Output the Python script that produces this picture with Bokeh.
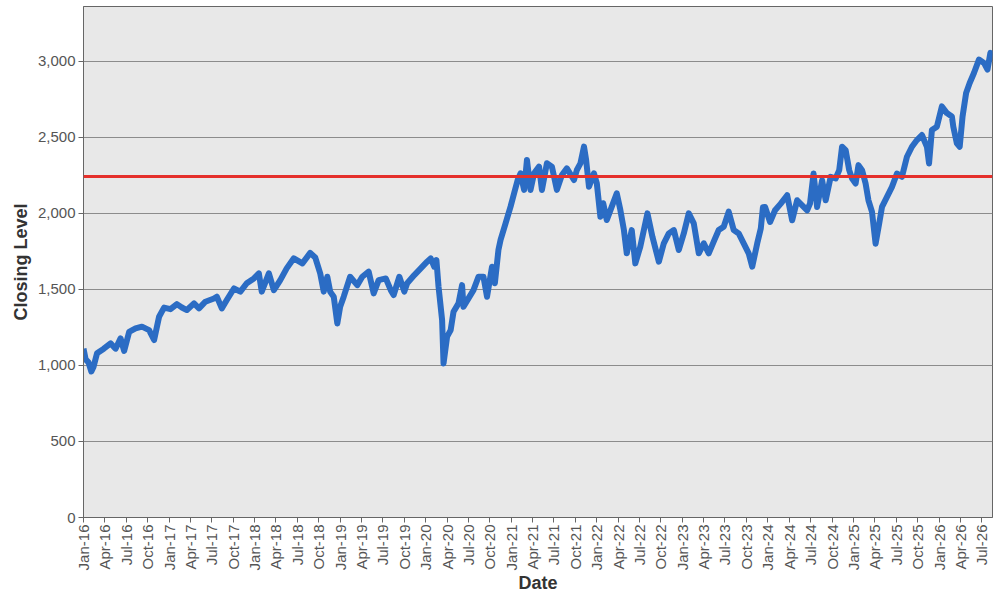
import math
import numpy as np
import pandas as pd
from bokeh.plotting import figure
from bokeh.models import (Span, FixedTicker, DatetimeTickFormatter, NumeralTickFormatter,
                          Range1d, ColumnDataSource)
from bokeh.embed import file_html
from bokeh.resources import INLINE

# ---- data ----
start_date = "2016-01-01"
# months elapsed since Jan 2016
months = [0.0, 0.3, 0.7, 1.1, 1.4, 1.9, 2.85, 3.8, 4.5, 5.2, 5.7, 6.4, 7.3, 8.2, 9.2, 9.9,
          10.6, 11.3, 12.2, 13.1, 13.8, 14.5, 15.5, 16.2, 17.1, 18.3, 18.7, 19.4, 20.1, 21.1,
          22.0, 22.9, 23.9, 24.6, 25.0, 26.0, 26.7, 27.6, 28.5, 29.5, 30.7, 31.8, 32.5, 33.2,
          33.7, 34.2, 34.6, 35.1, 35.6, 36.0, 36.5, 37.4, 38.4, 39.1, 40.0, 40.7, 41.4, 42.4,
          43.1, 43.5, 44.3, 45.0, 45.4, 46.4, 47.3, 48.2, 48.7, 49.2, 49.5, 49.8, 50.3, 50.5,
          51.0, 51.5, 51.9, 52.6, 53.1, 53.3, 54.0, 54.7, 55.4, 56.1, 56.6, 57.3, 57.7, 58.2,
          58.5, 59.2, 59.9, 60.4, 60.9, 61.3, 61.8, 62.2, 62.7, 63.2, 63.9, 64.3, 65.0, 65.7,
          66.4, 67.1, 67.8, 68.8, 69.2, 69.7, 70.2, 70.5, 70.9, 71.6, 72.0, 72.5, 72.9, 73.4,
          74.1, 74.8, 75.3, 75.8, 76.2, 76.9, 77.4, 78.1, 79.1, 79.8, 80.7, 81.4, 82.1, 82.8,
          83.5, 84.2, 84.9, 85.6, 86.3, 87.0, 87.7, 88.5, 89.1, 89.8, 90.5, 91.2, 91.9, 92.6,
          93.3, 93.8, 94.5, 95.0, 95.3, 95.6, 96.3, 97.0, 97.8, 98.7, 99.4, 100.1, 100.8, 101.5,
          101.9, 102.4, 102.9, 103.6, 104.1, 104.8, 105.5, 106.0, 106.4, 106.9, 107.4, 107.8,
          108.3, 108.7, 109.2, 109.7, 110.1, 110.6, 111.1, 111.6, 112.0, 112.7, 113.4, 114.1,
          114.8, 115.5, 116.2, 116.9, 117.6, 118.3, 118.6, 119.0, 119.7, 120.4, 121.1, 121.8,
          122.0, 122.5, 122.9, 123.3, 123.8, 124.3, 124.9, 125.6, 126.3, 126.8, 127.2, 127.5]
closing = [1110, 1040, 1020, 960, 990, 1080, 1110, 1145, 1110, 1178, 1095, 1220, 1243, 1255, 1232, 1167,
           1320, 1380, 1370, 1403, 1381, 1364, 1408, 1375, 1419, 1440, 1452, 1375, 1430, 1506,
           1485, 1540, 1572, 1605, 1485, 1605, 1495, 1561, 1638, 1704, 1671, 1740, 1710, 1605,
           1485, 1583, 1485, 1452, 1276, 1386, 1452, 1583, 1528, 1583, 1616, 1474, 1561, 1572,
           1495, 1463, 1583, 1485, 1540, 1594, 1638, 1682, 1704, 1649, 1693, 1517, 1298, 1013,
           1189, 1232, 1353, 1408, 1528, 1386, 1441, 1495, 1583, 1583, 1452, 1649, 1540, 1759,
           1825, 1934, 2044, 2132, 2219, 2263, 2154, 2351, 2154, 2263, 2307, 2154, 2329, 2307,
           2154, 2252, 2296, 2219, 2285, 2329, 2439, 2351, 2175, 2263, 2197, 1978, 2066, 1956,
           2044, 2132, 2022, 1890, 1737, 1890, 1671, 1781, 2000, 1846, 1682, 1803, 1868, 1890,
           1759, 1868, 2000, 1934, 1737, 1803, 1737, 1825, 1890, 1912, 2011, 1890, 1868, 1803,
           1737, 1649, 1803, 1900, 2040, 2042, 1943, 2020, 2064, 2119, 1954, 2086, 2053, 2020,
           2064, 2262, 2042, 2218, 2086, 2240, 2229, 2284, 2438, 2416, 2284, 2229,
           2196, 2317, 2284, 2196, 2086, 2009, 1800, 1932, 2042, 2108, 2174, 2262,
           2240, 2372, 2438, 2482, 2515, 2438, 2328, 2548, 2570, 2703, 2659, 2637,
           2570, 2460, 2438, 2637, 2791, 2857, 2923, 3011, 2989, 2945, 3055, 3040]
reference_level = 2243
x_end_month = 127.5
y_max = 3360
y_ticks = [0, 500, 1000, 1500, 2000, 2500, 3000]

# ---- conversion ----
MS_PER_MONTH = 30.4375 * 86400000.0
base_ms = pd.Timestamp(start_date).value / 1e6
dates_ms = [base_ms + m * MS_PER_MONTH for m in months]
quarters = pd.date_range(start_date, periods=43, freq="QS")
quarter_ms = [q.value / 1e6 for q in quarters]

source = ColumnDataSource(dict(date=dates_ms, close=closing))

p = figure(width=994, height=596, x_axis_type="datetime", output_backend="svg",
           toolbar_location=None,
           x_range=Range1d(base_ms, base_ms + x_end_month * MS_PER_MONTH),
           y_range=Range1d(0, y_max),
           min_border_left=83, min_border_right=2, min_border_top=6, min_border_bottom=79)

p.background_fill_color = "#e8e8e8"
p.border_fill_color = "white"
p.outline_line_color = "#666666"
p.outline_line_width = 1

p.line("date", "close", source=source, line_color="#2b6cc4", line_width=6, line_join="round")

p.add_layout(Span(location=reference_level, dimension="width", line_color="#e5302b", line_width=3))

FONT = "Liberation Sans"
# x axis
xa = p.xaxis[0]
xa.ticker = FixedTicker(ticks=quarter_ms)
xa.formatter = DatetimeTickFormatter(days="%b-%y", months="%b-%y", years="%b-%y",
                                     hours="%b-%y", minutes="%b-%y", hourmin="%b-%y")
xa.major_label_orientation = math.pi / 2
xa.axis_label = "Date"
# y axis
ya = p.yaxis[0]
ya.ticker = FixedTicker(ticks=y_ticks)
ya.formatter = NumeralTickFormatter(format="0,0")
ya.axis_label = "Closing Level"

for ax in (xa, ya):
    ax.major_label_text_font = FONT
    ax.major_label_text_font_size = "15px"
    ax.major_label_text_color = "#555555"
    ax.axis_label_text_font = FONT
    ax.axis_label_text_font_style = "bold"
    ax.axis_label_text_font_size = "18px"
    ax.axis_label_text_color = "#333333"
    ax.axis_line_color = "#666666"
    ax.major_tick_line_color = "#666666"
    ax.major_tick_out = 5
    ax.major_tick_in = 0
    ax.minor_tick_line_color = None
xa.major_label_standoff = 2
xa.axis_label_standoff = 0
ya.major_label_standoff = 3
ya.axis_label_standoff = 4

p.xgrid.grid_line_color = None
p.ygrid.grid_line_color = "#8c8c8c"
p.ygrid.grid_line_width = 1

open("out.html", "w").write(file_html(p, INLINE))
